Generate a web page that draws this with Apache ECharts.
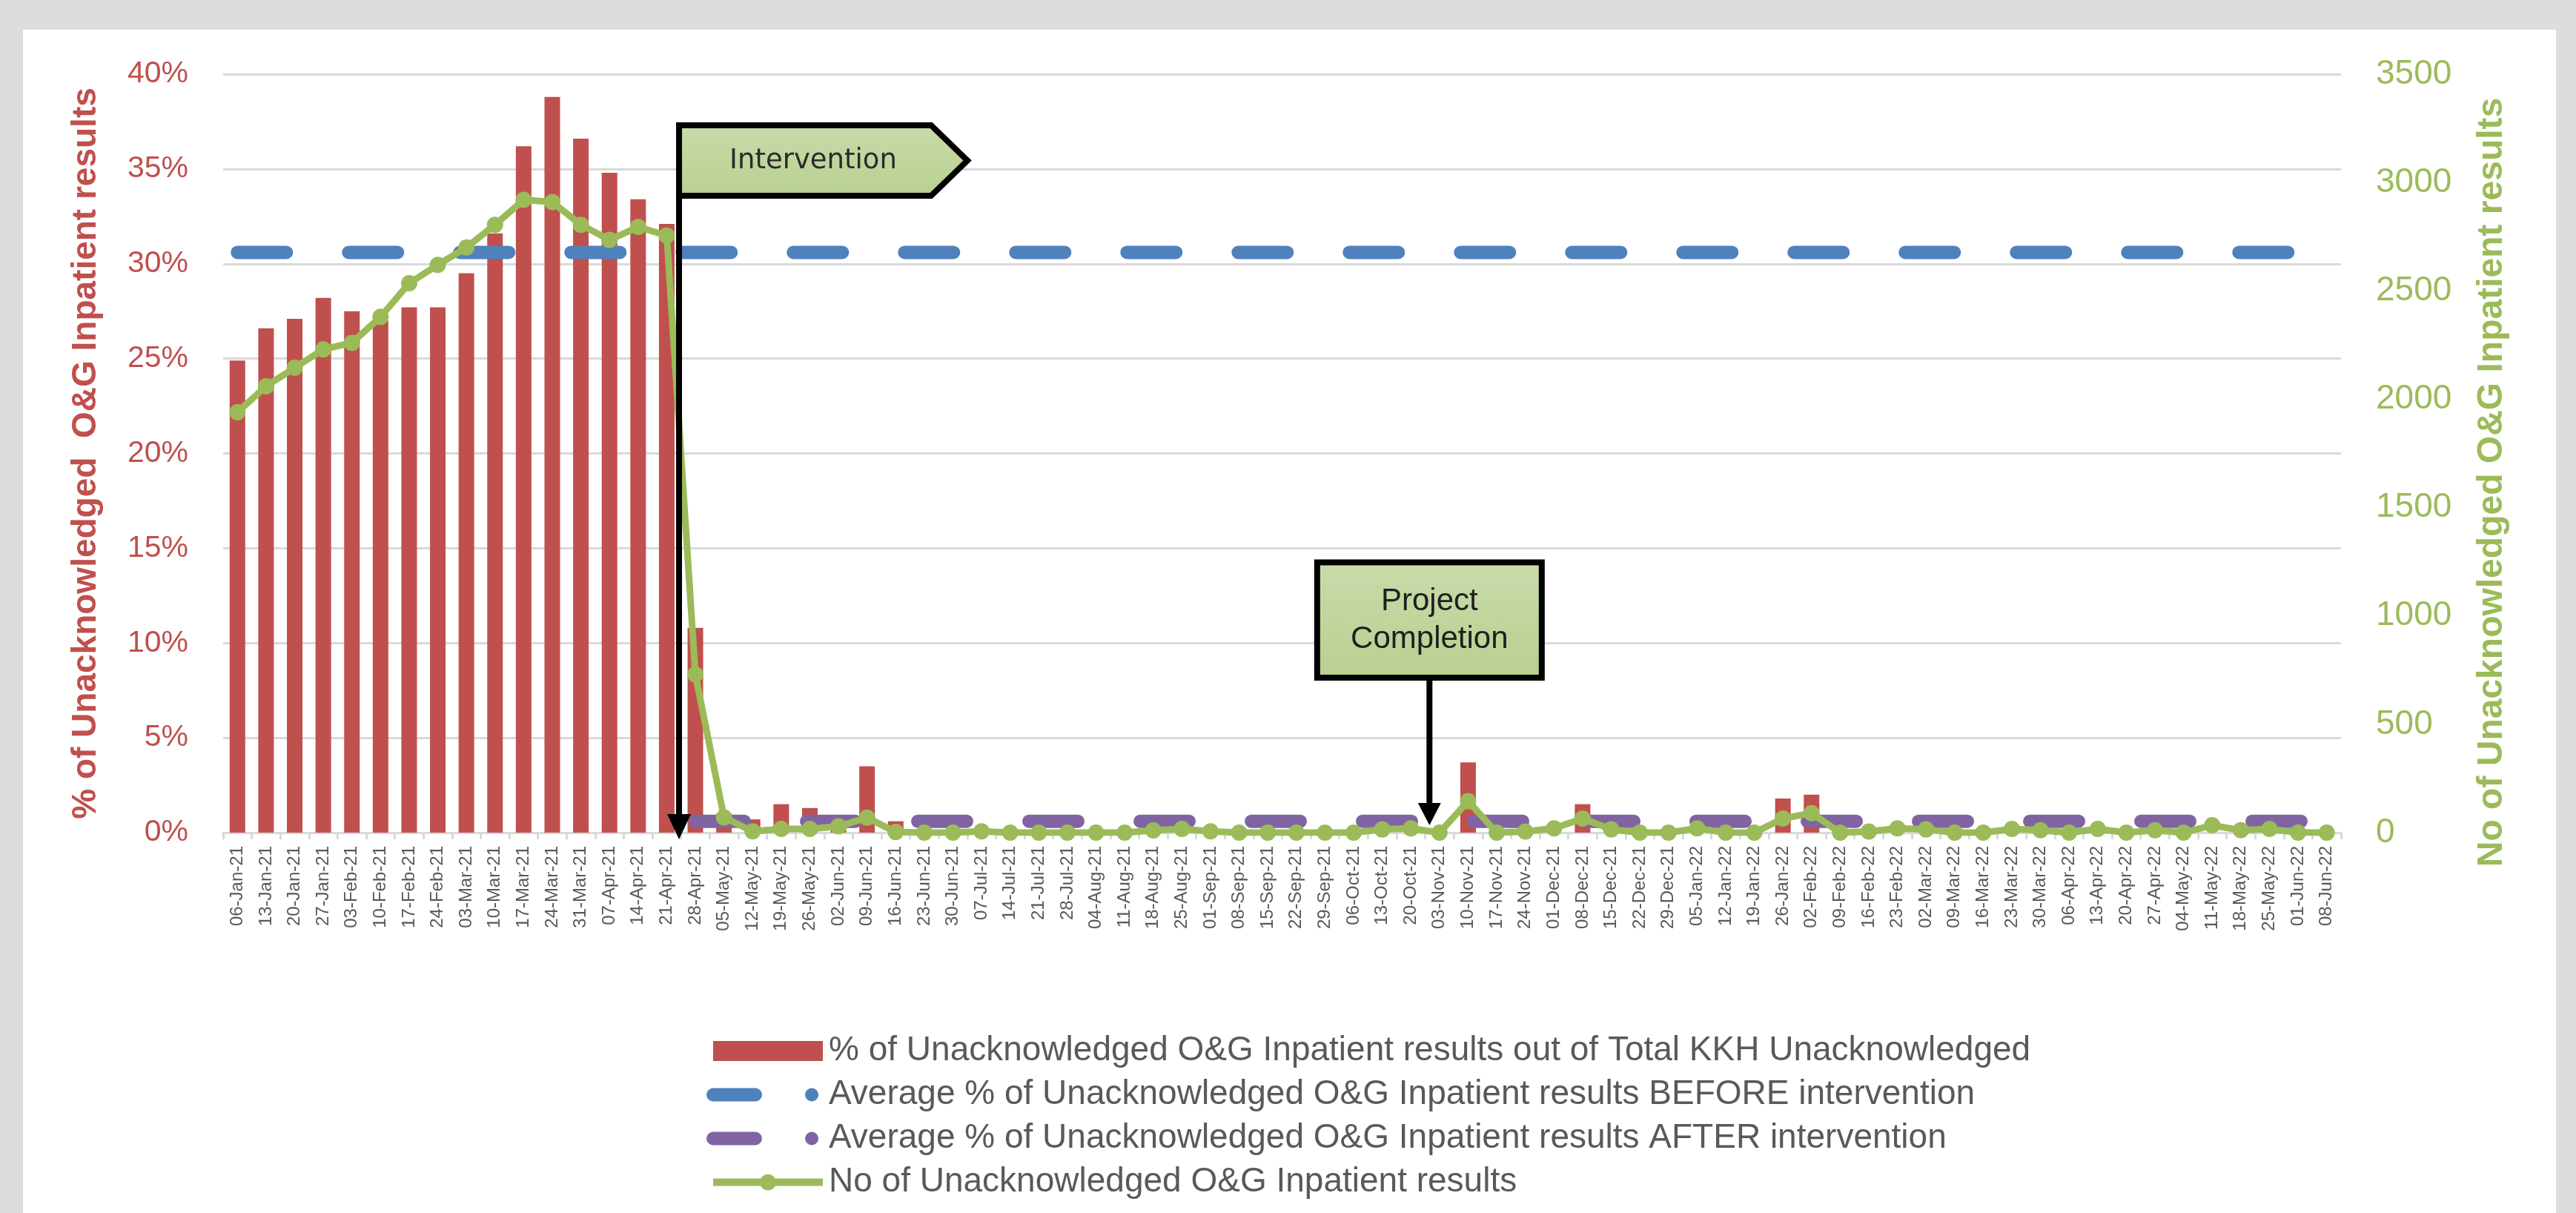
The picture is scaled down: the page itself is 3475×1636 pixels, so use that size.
<!DOCTYPE html>
<html>
<head>
<meta charset="utf-8">
<title>Unacknowledged O&amp;G Inpatient results</title>
<script src="https://cdn.jsdelivr.net/npm/echarts@6/dist/echarts.min.js"></script>
<style>
  html, body { margin: 0; padding: 0; background: #dcdddc; }
  .panel { position: absolute; left: 31px; top: 40px; width: 3417px; height: 1596px; background: #fff; }
  .chart { position: absolute; left: 0; top: 0; width: 3475px; height: 1636px; }
</style>
</head>
<body>
<div class="panel"></div>
<div class="chart" id="chart"></div>
<script>
const weeks = [
  '06-Jan-21', '13-Jan-21', '20-Jan-21', '27-Jan-21', '03-Feb-21', '10-Feb-21', '17-Feb-21', '24-Feb-21',
  '03-Mar-21', '10-Mar-21', '17-Mar-21', '24-Mar-21', '31-Mar-21', '07-Apr-21', '14-Apr-21', '21-Apr-21',
  '28-Apr-21', '05-May-21', '12-May-21', '19-May-21', '26-May-21', '02-Jun-21', '09-Jun-21', '16-Jun-21',
  '23-Jun-21', '30-Jun-21', '07-Jul-21', '14-Jul-21', '21-Jul-21', '28-Jul-21', '04-Aug-21', '11-Aug-21',
  '18-Aug-21', '25-Aug-21', '01-Sep-21', '08-Sep-21', '15-Sep-21', '22-Sep-21', '29-Sep-21', '06-Oct-21',
  '13-Oct-21', '20-Oct-21', '03-Nov-21', '10-Nov-21', '17-Nov-21', '24-Nov-21', '01-Dec-21', '08-Dec-21',
  '15-Dec-21', '22-Dec-21', '29-Dec-21', '05-Jan-22', '12-Jan-22', '19-Jan-22', '26-Jan-22', '02-Feb-22',
  '09-Feb-22', '16-Feb-22', '23-Feb-22', '02-Mar-22', '09-Mar-22', '16-Mar-22', '23-Mar-22', '30-Mar-22',
  '06-Apr-22', '13-Apr-22', '20-Apr-22', '27-Apr-22', '04-May-22', '11-May-22', '18-May-22', '25-May-22',
  '01-Jun-22', '08-Jun-22'
]

// % of unacknowledged O&G inpatient results out of total KKH unacknowledged
const pctUnack = [
  24.9, 26.6, 27.1, 28.2, 27.5, 27.0, 27.7, 27.7,
  29.5, 31.6, 36.2, 38.8, 36.6, 34.8, 33.4, 32.1,
  10.8, 1.0, 0.7, 1.5, 1.3, 0.7, 3.5, 0.6,
  0, 0, 0, 0, 0, 0, 0, 0,
  0, 0, 0, 0, 0, 0, 0, 0,
  0, 0, 0, 3.7, 0, 0, 0, 1.5,
  0, 0, 0, 0, 0, 0, 1.8, 2.0,
  0, 0, 0, 0, 0, 0, 0, 0,
  0, 0, 0, 0, 0, 0, 0, 0,
  0, 0
]

// number of unacknowledged O&G inpatient results
const countUnack = [
  1940, 2060, 2145, 2230, 2260, 2380, 2535, 2620,
  2700, 2805, 2920, 2910, 2805, 2735, 2795, 2755,
  730, 70, 6, 17, 17, 29, 69, 3,
  0, 0, 6, 0, 0, 0, 0, 0,
  10, 17, 6, 0, 0, 0, 0, 0,
  15, 20, 0, 145, 0, 5, 20, 65,
  15, 0, 0, 20, 0, 0, 65, 90,
  0, 5, 20, 15, 0, 0, 17, 11,
  0, 17, 0, 11, 0, 34, 11, 17,
  0, 0
]

const avgBefore = 30.6
const avgAfter = 0.6
const afterFrom = '28-Apr-21'

const pctTicks = { min: 0, max: 40, interval: 5 }
const countTicks = { min: 0, max: 3500, interval: 500 }

const barName = '% of Unacknowledged O&G Inpatient results out of Total KKH Unacknowledged'
const beforeName = 'Average % of Unacknowledged O&G Inpatient results BEFORE intervention'
const afterName = 'Average % of Unacknowledged O&G Inpatient results AFTER intervention'
const countName = 'No of Unacknowledged O&G Inpatient results'

const RED = '#c0504d'
const BLUE = '#4f81bd'
const PURPLE = '#8064a2'
const GREEN = '#9bbb59'
const GRID = '#d9d9d9'
const FONT = 'Liberation Sans'

const afterIdx = weeks.indexOf(afterFrom)
const beforeLine = weeks.map(() => avgBefore)
const afterLine = weeks.map((w, i) => (i >= afterIdx ? avgAfter : null))

// legend sample of the dashed averages: one dash, then a dot
const legendDash = { width: 18, type: [57, 76, 0.1, 200], cap: 'round' }

const chart = echarts.init(document.getElementById('chart'), null, { renderer: 'canvas' })

chart.setOption({
  animation: false,
  backgroundColor: 'transparent',
  textStyle: { fontFamily: FONT },
  grid: { left: 301, right: 317, top: 100, bottom: 513, outerBoundsMode: 'none' },
  legend: {
    orient: 'vertical',
    left: 953,
    top: 1390,
    padding: 0,
    itemGap: 4,
    itemWidth: 148,
    itemHeight: 27,
    textStyle: { fontSize: 46, color: '#595959', fontFamily: FONT, lineHeight: 55, padding: [0, 0, 0, 3] },
    data: [
      { name: barName, icon: 'rect' },
      { name: beforeName, itemStyle: { opacity: 0 }, lineStyle: legendDash },
      { name: afterName, itemStyle: { opacity: 0 }, lineStyle: legendDash },
      { name: countName, lineStyle: { width: 10 } }
    ]
  },
  xAxis: {
    type: 'category',
    data: weeks,
    boundaryGap: true,
    axisLine: { lineStyle: { color: GRID, width: 3 } },
    axisTick: { show: true, interval: 0, length: 9, lineStyle: { color: GRID, width: 3 } },
    axisLabel: { interval: 0, rotate: 90, fontSize: 24, color: '#595959', margin: 18, fontFamily: FONT },
    splitLine: { show: false }
  },
  yAxis: [
    {
      type: 'value',
      ...pctTicks,
      name: '% of Unacknowledged  O&G Inpatient results',
      nameLocation: 'middle',
      nameRotate: 90,
      nameGap: 162,
      nameTextStyle: { color: RED, fontSize: 46, fontWeight: 'bold', fontFamily: FONT },
      axisLine: { show: false },
      axisTick: { show: false },
      axisLabel: { color: RED, fontSize: 41, margin: 47, formatter: '{value}%', fontFamily: FONT },
      splitLine: { lineStyle: { color: GRID, width: 3 } }
    },
    {
      type: 'value',
      position: 'right',
      ...countTicks,
      name: countName,
      nameLocation: 'middle',
      nameRotate: 90,
      nameGap: 180,
      nameTextStyle: { color: GREEN, fontSize: 48, fontWeight: 'bold', fontFamily: FONT, padding: [0, 78, 0, 0] },
      axisLine: { show: false },
      axisTick: { show: false },
      axisLabel: { color: GREEN, fontSize: 46, margin: 47, fontFamily: FONT, formatter: v => String(v) },
      splitLine: { show: false }
    }
  ],
  series: [
    {
      name: barName,
      type: 'bar',
      yAxisIndex: 0,
      data: pctUnack,
      barWidth: 21,
      itemStyle: { color: RED }
    },
    {
      name: beforeName,
      type: 'line',
      yAxisIndex: 0,
      data: beforeLine,
      symbol: 'none',
      itemStyle: { color: BLUE },
      lineStyle: { color: BLUE, width: 18, type: [66, 84], cap: 'round' }
    },
    {
      name: afterName,
      type: 'line',
      yAxisIndex: 0,
      data: afterLine,
      symbol: 'none',
      itemStyle: { color: PURPLE },
      lineStyle: { color: PURPLE, width: 18, type: [66, 84], cap: 'round' }
    },
    {
      name: countName,
      type: 'line',
      yAxisIndex: 1,
      data: countUnack,
      symbol: 'circle',
      symbolSize: 22,
      showAllSymbol: true,
      itemStyle: { color: GREEN },
      lineStyle: { color: GREEN, width: 9 }
    }
  ]
})

// call-out shapes, anchored to the category axis
function catX(i) {
  return chart.convertToPixel({ xAxisIndex: 0 }, i)
}
const xInt = catX(15) + (catX(16) - catX(15)) * 0.43
const xDone = catX(41) + (catX(42) - catX(41)) * 0.65
const fillGrad = () => new echarts.graphic.LinearGradient(0, 0, 0, 1, [
  { offset: 0, color: '#c9dbab' },
  { offset: 1, color: '#b9cf8f' }
])

chart.setOption({
  graphic: [
    {
      type: 'line', z: 100,
      shape: { x1: xInt, y1: 264, x2: xInt, y2: 1102 },
      style: { stroke: '#000', lineWidth: 8 }
    },
    {
      type: 'polygon', z: 100,
      shape: { points: [[xInt - 16, 1098], [xInt + 16, 1098], [xInt, 1132]] },
      style: { fill: '#000' }
    },
    {
      type: 'polygon', z: 101,
      shape: { points: [[xInt, 169], [xInt + 340, 169], [xInt + 389, 216.5], [xInt + 340, 264], [xInt, 264]] },
      style: { fill: fillGrad(), stroke: '#000', lineWidth: 8, lineJoin: 'miter' }
    },
    {
      type: 'text', z: 102,
      style: {
        text: 'Intervention', x: xInt + 181, y: 217,
        align: 'center', verticalAlign: 'middle',
        font: '37px "DejaVu Sans"', fill: '#2b2b2b'
      }
    },
    {
      type: 'line', z: 100,
      shape: { x1: xDone, y1: 914, x2: xDone, y2: 1086 },
      style: { stroke: '#000', lineWidth: 8 }
    },
    {
      type: 'polygon', z: 100,
      shape: { points: [[xDone - 15.5, 1083], [xDone + 15.5, 1083], [xDone, 1113]] },
      style: { fill: '#000' }
    },
    {
      type: 'rect', z: 101,
      shape: { x: xDone - 151.5, y: 758.5, width: 303, height: 155.5 },
      style: { fill: fillGrad(), stroke: '#000', lineWidth: 8 }
    },
    {
      type: 'text', z: 102,
      style: {
        text: 'Project\nCompletion', x: xDone, y: 837,
        align: 'center', verticalAlign: 'middle', lineHeight: 51,
        font: '42px "Liberation Sans"', fill: '#1f1f1f'
      }
    }
  ]
})
</script>
</body>
</html>
